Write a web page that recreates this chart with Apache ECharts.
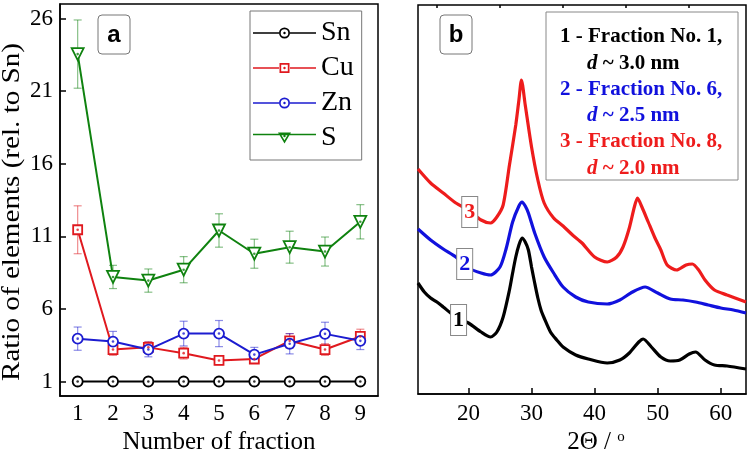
<!DOCTYPE html>
<html>
<head>
<meta charset="utf-8">
<script src="https://cdn.jsdelivr.net/npm/echarts@6/dist/echarts.min.js"></script>
<style>html,body{margin:0;padding:0;background:#fff}#main{width:750px;height:455px}</style>
</head>
<body>
<div id="main"></div>
<script>
// panel a: element ratios per fraction
var fractions = ['1', '2', '3', '4', '5', '6', '7', '8', '9'];
var sn = [1, 1, 1, 1, 1, 1, 1, 1, 1];
var cu = [11.45, 3.2, 3.35, 2.95, 2.45, 2.55, 3.8, 3.2, 4.1];
var cuErr = [1.65, 0.4, 0.4, 0.4, 0.3, 0.3, 0.5, 0.4, 0.5];
var zn = [3.95, 3.75, 3.2, 4.3, 4.3, 2.85, 3.6, 4.28, 3.8];
var znErr = [0.8, 0.7, 0.5, 0.85, 0.9, 0.5, 0.7, 0.8, 0.6];
var s = [23.55, 8.2, 7.95, 8.7, 11.4, 9.8, 10.25, 9.95, 12.0];
var sErr = [2.35, 0.8, 0.8, 0.9, 1.15, 1.0, 1.1, 1.0, 1.18];
var ratioTicks = [1, 6, 11, 16, 21, 26];

// panel b: XRD patterns (arbitrary intensity)
var xrd1Theta = [12, 13, 14, 15, 16, 18, 20, 22, 23.5, 24.5, 25.5, 26.5, 27, 27.5, 28, 28.5, 29, 29.5, 30, 30.5, 31, 31.5, 32, 33, 34, 35, 37, 39, 42, 44, 45.5, 47, 47.7, 49, 50.5, 52, 53.5, 55, 56, 57.5, 59, 61, 64];
var xrd1Int = [111, 102, 96, 92, 87, 77, 71, 62, 57, 62, 77, 104, 121, 137, 149, 156, 152, 144, 127, 111, 96, 84, 76, 62, 54, 47, 39, 35, 31, 34, 41, 52, 55, 47, 37, 33, 34, 40, 42, 34, 29, 28, 25];
var xrd2Theta = [12, 14, 16, 18, 20, 22, 23.5, 25, 26, 27, 28, 28.5, 29, 29.5, 30.5, 32, 33.5, 35, 37, 39, 42, 44, 46, 48, 50, 52, 54, 56, 58, 60, 62, 64];
var xrd2Int = [165, 154, 145, 137, 126, 121, 119, 127, 146, 172, 188, 192, 188, 181, 161, 137, 121, 107, 97, 92, 90, 94, 102, 107, 101, 95, 94, 92, 89, 86, 84, 81];
var xrd3Theta = [12, 14, 16, 18, 20, 22, 23.5, 24.5, 25.5, 26.5, 27.5, 28, 28.4, 29, 30, 31, 32, 33.5, 35, 36.5, 38, 40, 42, 43.5, 44.5, 45.5, 46.3, 46.8, 47.5, 48.5, 49.5, 50.5, 51.5, 53, 54.5, 55.5, 56.5, 57.5, 59, 61, 64];
var xrd3Int = [225, 211, 201, 191, 184, 174, 171, 177, 189, 229, 269, 294, 314, 289, 247, 214, 191, 176, 168, 159, 151, 137, 132, 137, 147, 166, 187, 196, 187, 172, 157, 144, 129, 124, 129, 130, 124, 114, 104, 99, 92];
var thetaTicks = [20, 30, 40, 50, 60];
var thetaMinor = [15, 25, 35, 45, 55];

var serif = '"Liberation Serif", "Times New Roman", serif';
var cBlack = '#000', cRed = '#e0191f', cBlue = '#1c1cd0', cGreen = '#0f820f';

function pairs(xs, ys) {
  return xs.map(function (x, i) { return [x, ys[i]]; });
}
function errData(vals, errs) {
  return vals.map(function (v, i) { return [i, v - errs[i], v + errs[i]]; });
}
function errSeries(vals, errs, color) {
  return {
    type: 'custom', xAxisIndex: 0, yAxisIndex: 0, silent: true, z: 1,
    encode: { x: 0, y: [1, 2] },
    data: errData(vals, errs),
    renderItem: function (params, api) {
      var lo = api.coord([api.value(0), api.value(1)]);
      var hi = api.coord([api.value(0), api.value(2)]);
      var w = 4, st = { stroke: color, lineWidth: 1.2 };
      return { type: 'group', children: [
        { type: 'line', shape: { x1: lo[0], y1: lo[1], x2: hi[0], y2: hi[1] }, style: st },
        { type: 'line', shape: { x1: lo[0] - w, y1: lo[1], x2: lo[0] + w, y2: lo[1] }, style: st },
        { type: 'line', shape: { x1: hi[0] - w, y1: hi[1], x2: hi[0] + w, y2: hi[1] }, style: st }
      ] };
    }
  };
}
function ratioSeries(name, vals, color, symbol, size, rot) {
  return {
    name: name, type: 'line', xAxisIndex: 0, yAxisIndex: 0, z: 3,
    data: vals, symbol: symbol, symbolSize: size, symbolRotate: rot || 0,
    lineStyle: { color: color, width: 2 },
    itemStyle: { color: '#fff', borderColor: color, borderWidth: 1.8 }
  };
}
function dotSeries(vals, color) {
  return {
    type: 'scatter', xAxisIndex: 0, yAxisIndex: 0, silent: true, z: 4,
    data: vals, symbol: 'circle', symbolSize: 2.6, itemStyle: { color: color }
  };
}
function xrdSeries(xs, ys, color, label, lx, ly) {
  return {
    type: 'line', xAxisIndex: 1, yAxisIndex: 1, showSymbol: false, smooth: 0.25,
    data: pairs(xs, ys), lineStyle: { color: color, width: 3.2 },
    markPoint: {
      symbol: 'circle', symbolSize: 1, itemStyle: { color: 'rgba(0,0,0,0)' },
      data: [{ coord: [lx, ly] }],
      label: {
        show: true, position: 'inside', formatter: label, color: color,
        fontFamily: serif, fontWeight: 'bold', fontSize: 22, lineHeight: 22,
        backgroundColor: '#fff', borderColor: '#888', borderWidth: 1, padding: [4, 2, 4, 2]
      }
    }
  };
}

// legend icons: line + open symbol + centre dot, 63 x 11
var lineL = 'M0 4.75 H26 V6.25 H0 Z M37 4.75 H63 V6.25 H37 Z ';
var dot = 'M30.3 5.5 A1.2 1.2 0 1 1 32.7 5.5 A1.2 1.2 0 1 1 30.3 5.5 Z';
var iconCircle = 'path://' + lineL +
  'M26 5.5 A5.5 5.5 0 1 1 37 5.5 A5.5 5.5 0 1 1 26 5.5 Z M27.7 5.5 A3.8 3.8 0 1 0 35.3 5.5 A3.8 3.8 0 1 0 27.7 5.5 Z ' + dot;
var iconSquare = 'path://' + lineL +
  'M26.5 0.5 H36.5 V10.5 H26.5 Z M28.2 2.2 V8.8 H34.8 V2.2 Z ' + dot;
var iconTri = 'path://M0 1.25 H63 V2.75 H0 Z ' +
  'M25 0 H38 L31.5 11 Z M27.9 1.7 L31.5 7.8 L35.1 1.7 Z ' + 'M30.3 3.6 A1.2 1.2 0 1 1 32.7 3.6 A1.2 1.2 0 1 1 30.3 3.6 Z';

var chart = echarts.init(document.getElementById('main'));
var option = {
  animation: false,
  backgroundColor: '#fff',
  grid: [
    { left: 60, top: 4, width: 318, height: 392, show: true, borderColor: '#000', borderWidth: 1.5, containLabel: false, outerBoundsMode: 'none' },
    { left: 418, top: 5, width: 328, height: 389, show: true, borderColor: '#000', borderWidth: 1.5, containLabel: false, outerBoundsMode: 'none' }
  ],
  xAxis: [
    {
      gridIndex: 0, type: 'category', data: fractions, boundaryGap: true,
      axisLine: { lineStyle: { color: '#000', width: 1.5 } },
      axisTick: { inside: true, alignWithLabel: true, length: 6, lineStyle: { color: '#000', width: 1.5 } },
      axisLabel: { fontFamily: serif, fontSize: 23, color: '#000', margin: 6 },
      splitLine: { show: false },
      name: 'Number of fraction', nameLocation: 'middle', nameGap: 31,
      nameTextStyle: { fontFamily: serif, fontSize: 25, color: '#000' }
    },
    {
      gridIndex: 1, type: 'value', min: 12, max: 64,
      axisLine: { lineStyle: { color: '#000', width: 1.5 } },
      axisTick: { inside: true, length: 6, customValues: thetaTicks, lineStyle: { color: '#000', width: 1.5 } },
      axisLabel: { fontFamily: serif, fontSize: 23, color: '#000', margin: 8, customValues: thetaTicks },
      splitLine: { show: false },
      name: '2Θ / {sup|o}', nameLocation: 'middle', nameGap: 34,
      nameTextStyle: {
        fontFamily: serif, fontSize: 25, color: '#000', padding: [0, 0, 0, 28],
        rich: { sup: { fontFamily: serif, fontSize: 15, verticalAlign: 'top', color: '#000' } }
      }
    },
    {
      gridIndex: 1, type: 'value', min: 12, max: 64,
      axisLine: { show: false },
      axisTick: { inside: true, length: 3, customValues: thetaMinor, lineStyle: { color: '#000', width: 1.5 } },
      axisLabel: { show: false },
      splitLine: { show: false }
    }
  ],
  yAxis: [
    {
      gridIndex: 0, type: 'value', min: 0, max: 27,
      axisLine: { show: true, lineStyle: { color: '#000', width: 1.5 } },
      axisTick: { show: true, inside: true, length: 6, customValues: ratioTicks, lineStyle: { color: '#000', width: 1.5 } },
      axisLabel: { fontFamily: serif, fontSize: 23, color: '#000', margin: 7, customValues: ratioTicks },
      splitLine: { show: false }
    },
    { gridIndex: 1, type: 'value', min: 0, max: 389, show: false }
  ],
  legend: {
    orient: 'vertical', left: 250, top: 11,
    padding: [8, 8, 8, 3], itemWidth: 63, itemHeight: 11, itemGap: 7,
    borderColor: '#777', borderWidth: 1, backgroundColor: '#fff',
    textStyle: { fontFamily: serif, fontSize: 28, lineHeight: 28, color: '#000' },
    data: [
      { name: 'Sn', icon: iconCircle, itemStyle: { color: cBlack, borderWidth: 0 } },
      { name: 'Cu', icon: iconSquare, itemStyle: { color: cRed, borderWidth: 0 } },
      { name: 'Zn', icon: iconCircle, itemStyle: { color: cBlue, borderWidth: 0 } },
      { name: 'S', icon: iconTri, itemStyle: { color: cGreen, borderWidth: 0 } }
    ]
  },
  series: [
    errSeries(cu, cuErr, 'rgba(224,25,31,0.5)'),
    errSeries(zn, znErr, 'rgba(28,28,208,0.5)'),
    errSeries(s, sErr, 'rgba(15,130,15,0.5)'),
    ratioSeries('Sn', sn, cBlack, 'circle', 10),
    ratioSeries('Cu', cu, cRed, 'rect', 9),
    ratioSeries('Zn', zn, cBlue, 'circle', 10),
    ratioSeries('S', s, cGreen, 'triangle', 12, 180),
    dotSeries(sn, cBlack), dotSeries(cu, cRed), dotSeries(zn, cBlue), dotSeries(s, cGreen),
    xrdSeries(xrd1Theta, xrd1Int, '#000', '1', 18.43, 74),
    xrdSeries(xrd2Theta, xrd2Int, '#1111dd', '2', 19.4, 130),
    xrdSeries(xrd3Theta, xrd3Int, '#ee1c1c', '3', 20.2, 182)
  ],
  graphic: [
    { type: 'text', x: 12, y: 212, rotation: Math.PI / 2, scaleX: 1.12,
      style: { text: 'Ratio of elements (rel. to Sn)', font: '26px ' + serif, fill: '#000', textAlign: 'center', textVerticalAlign: 'middle' } },
    { type: 'rect', z: 10, shape: { x: 98, y: 15, width: 32, height: 39, r: 4 }, style: { fill: '#fff', stroke: '#777', lineWidth: 1 } },
    { type: 'text', z: 11, x: 114, y: 35, style: { text: 'a', font: 'bold 24px "Liberation Sans", Arial, sans-serif', fill: '#000', textAlign: 'center', textVerticalAlign: 'middle' } },
    { type: 'rect', z: 10, shape: { x: 440, y: 15, width: 32, height: 39, r: 4 }, style: { fill: '#fff', stroke: '#777', lineWidth: 1 } },
    { type: 'text', z: 11, x: 456, y: 35, style: { text: 'b', font: 'bold 24px "Liberation Sans", Arial, sans-serif', fill: '#000', textAlign: 'center', textVerticalAlign: 'middle' } },
    { type: 'rect', z: 10, shape: { x: 546, y: 12, width: 192, height: 168 }, style: { fill: '#fff', stroke: '#888', lineWidth: 1 } }
  ]
};

// text block of panel b
var legendLines = [
  ['1 - Fraction No. 1,', '3.0', '#000'],
  ['2 - Fraction No. 6,', '2.5', '#1111dd'],
  ['3 - Fraction No. 8,', '2.0', '#ee1c1c']
];
legendLines.forEach(function (l, i) {
  var y0 = 37 + i * 52.5;
  option.graphic.push({
    type: 'text', z: 11, x: 560, y: y0,
    style: { text: l[0], font: 'bold 21px ' + serif, fill: l[2], textVerticalAlign: 'middle' }
  });
  option.graphic.push({
    type: 'text', z: 11, x: 587, y: y0 + 26.5,
    style: {
      text: '{i|d} ~ ' + l[1] + ' nm', font: 'bold 21px ' + serif, fill: l[2], textVerticalAlign: 'middle',
      rich: { i: { fontStyle: 'italic', fontWeight: 'bold', fontSize: 21, fontFamily: serif, fill: l[2] } }
    }
  });
});

chart.setOption(option);
</script>
</body>
</html>
